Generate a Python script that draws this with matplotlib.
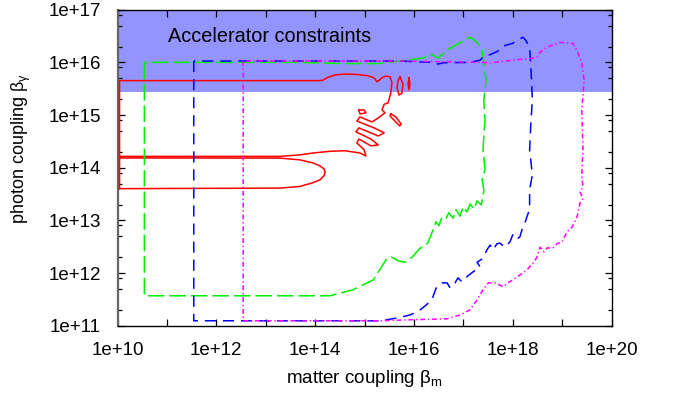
import math
import matplotlib
matplotlib.use("Agg")
import matplotlib.pyplot as plt
from matplotlib.ticker import FixedLocator, FuncFormatter, NullLocator

plt.rcParams['font.family'] = ['Liberation Sans', 'DejaVu Sans']
plt.rcParams['mathtext.fontset'] = 'custom'
plt.rcParams['mathtext.rm'] = 'Liberation Sans'
plt.rcParams['mathtext.it'] = 'Liberation Sans'
plt.rcParams['lines.scale_dashes'] = False

# ---- data (matter coupling, photon coupling) ----
accel_limit = 2.7e15

red_x = [1.1e10, 1.1e10, 1.2e14, 1.45e14, 1.8e14, 2.6e14, 4.0e14, 7.0e14, 1.15e15, 1.56e15,
         1.79e15, 2.0e15, 2.26e15, 2.7e15, 3.3e15, 3.6e15, 3.4e15, 3.0e15, 2.5e15, 2.26e15,
         2.6e15, 1.9e15, 1.42e15, 8.1e14, 7.0e14, 1.56e15, 2.5e15, 1.9e15, 7.7e14, 6.7e14,
         1.35e15, 1.9e15, 1.35e15, 7.7e14, 7.0e14, 9.8e14, 1.07e15, 8.1e14, 4.0e14, 2.0e14,
         9.0e13, 4.9e13, 1.95e13, 1.1e10, 1.1e10, 1.95e13, 4.9e13, 9.1e13, 1.26e14, 1.51e14,
         1.6e14, 1.51e14, 1.26e14, 9.1e13, 4.9e13, 1.95e13, 1.1e10]
red_y = [4.0e13, 4.5e15, 4.5e15, 4.6e15, 5.2e15, 5.8e15, 6.0e15, 5.9e15, 5.6e15, 5.1e15,
         4.3e15, 4.6e15, 5.1e15, 5.5e15, 5.3e15, 4.1e15, 2.6e15, 1.7e15, 1.6e15, 1.25e15,
         1.1e15, 8.8e14, 7.4e14, 9.2e14, 7.7e14, 5.7e14, 4.6e14, 4.0e14, 5.7e14, 4.8e14,
         3.5e14, 2.7e14, 2.6e14, 3.5e14, 2.95e14, 2.2e14, 1.67e14, 1.9e14, 2.1e14, 2.05e14,
         1.9e14, 1.75e14, 1.64e14, 1.64e14, 1.53e14, 1.52e14, 1.41e14, 1.23e14, 1.08e14, 9.5e13,
         8.3e13, 7.0e13, 5.9e13, 5.2e13, 4.4e13, 4.1e13, 4.0e13]

red_loops_x = [[5.2e15, 6.0e15, 5.7e15, 5.0e15, 4.55e15, 4.8e15, 5.2e15],
               [8.0e15, 8.3e15, 8.0e15, 7.6e15, 8.0e15],
               [3.4e15, 4.3e15, 5.5e15, 5.2e15, 4.1e15, 3.3e15, 3.4e15],
               [7.7e14, 9.8e14, 1.07e15, 8.1e14, 7.7e14]]
red_loops_y = [[5.3e15, 3.9e15, 2.6e15, 2.4e15, 3.3e15, 4.6e15, 5.3e15],
               [5.1e15, 3.9e15, 3.0e15, 3.9e15, 5.1e15],
               [1.05e15, 9.2e14, 6.8e14, 6.2e14, 7.7e14, 9.6e14, 1.05e15],
               [1.25e15, 1.25e15, 1.1e15, 1.05e15, 1.25e15]]

green_x = [3.5e10, 3.5e10, 2.0e14, 5.8e14, 1.5e15, 2.85e15, 3.6e15, 4.8e15, 6.6e15, 9.2e15,
           1.3e16, 1.9e16, 2.4e16, 2.8e16, 3.2e16, 3.7e16, 4.5e16, 5.1e16, 6.2e16, 7.1e16,
           8.6e16, 9.9e16, 1.19e17, 1.37e17, 1.65e17, 1.9e17, 2.3e17, 2.5e17,
           2.6e17, 2.4e17, 2.75e17, 2.5e17, 2.75e17, 2.6e17, 2.9e17, 2.6e17, 2.4e17, 2.2e17,
           1.9e17, 1.37e17, 6.8e16, 4.7e16, 3.1e16, 2.4e16, 1.5e16, 2.85e15, 1.9e15, 3.2e14,
           4.9e13, 3.5e10]
green_y = [1.0e16, 3.7e11, 3.7e11, 4.8e11, 7.4e11, 1.9e12, 2.0e12, 1.7e12, 1.6e12, 2.0e12,
           2.9e12, 3.7e12, 6.3e12, 9.4e12, 7.9e12, 1.16e13, 1.1e13, 1.4e13, 1.1e13, 1.6e13,
           1.2e13, 1.8e13, 1.45e13, 2.05e13, 1.65e13, 2.35e13, 1.97e13, 2.8e13,
           3.8e13, 5.9e13, 9.1e13, 2.2e14, 8.1e14, 1.9e15, 4.6e15, 8.9e15, 1.7e16, 1.96e16,
           2.4e16, 3.0e16, 2.1e16, 1.7e16, 1.2e16, 1.4e16, 1.2e16, 1.0e16, 9.5e15, 9.5e15,
           1.0e16, 1.0e16]

blue_x = [3.5e11, 3.5e11, 2.1e15, 3.3e15, 4.8e15, 8.3e15, 1.2e16, 1.8e16, 2.3e16, 2.9e16,
          3.7e16, 4.7e16, 5.4e16, 6.8e16, 7.8e16, 9.4e16, 1.25e17, 1.57e17, 2.2e17, 1.9e17,
          2.5e17, 3.0e17, 3.5e17, 4.0e17, 4.8e17, 5.5e17, 7.0e17, 8.8e17, 1.0e18, 1.2e18,
          1.4e18, 1.6e18, 1.8e18, 2.0e18, 2.2e18, 2.2e18, 2.5e18, 2.2e18, 2.35e18, 2.5e18,
          2.35e18, 2.2e18, 1.8e18, 1.6e18, 1.0e18, 7.0e17, 5.5e17, 3.5e17, 2.5e17, 2.2e17,
          1.37e17, 3.9e16, 3.1e16, 2.4e16, 5.2e15, 3.5e11]
blue_y = [1.06e16, 1.24e11, 1.24e11, 1.33e11, 1.41e11, 1.6e11, 1.84e11, 2.5e11, 3.1e11, 5.5e11,
          6.5e11, 6.5e11, 5.2e11, 6.5e11, 8.1e11, 6.8e11, 8.9e11, 1.05e12, 1.3e12, 1.6e12,
          1.9e12, 2.75e12, 3.4e12, 2.75e12, 3.6e12, 3.7e12, 3.1e12, 3.9e12, 5.3e12, 4.3e12,
          4.9e12, 7.5e12, 9.4e12, 1.27e13, 1.6e13, 3.8e13, 7.3e13, 2.2e14, 8.1e14, 1.9e15,
          7.2e15, 1.96e16, 2.7e16, 3.0e16, 2.3e16, 2.1e16, 1.7e16, 1.4e16, 1.26e16, 1.1e16,
          1.0e16, 9.8e15, 9.3e15, 1.0e16, 1.06e16, 1.06e16]

magenta_x = [3.5e12, 3.5e12, 2.1e15, 9.6e15, 4.7e16, 8.6e16, 1.37e17, 1.9e17, 2.5e17, 3.2e17,
             4.4e17, 6.4e17, 8.0e17, 1.0e18, 1.4e18, 1.95e18, 2.6e18, 3.1e18, 3.6e18, 4.3e18,
             5.0e18, 6.5e18, 7.9e18, 1.0e19, 1.26e19, 1.6e19, 2.0e19, 2.3e19, 2.65e19, 2.3e19,
             2.65e19, 2.5e19, 2.65e19, 2.5e19, 2.8e19, 2.5e19, 2.0e19, 1.66e19, 9.1e18, 5.0e18,
             3.6e18, 3.1e18, 2.6e18, 1.0e18, 3.5e17, 2.5e17, 5.2e15, 3.5e12]
magenta_y = [1.06e16, 1.24e11, 1.24e11, 1.3e11, 1.35e11, 1.6e11, 2.0e11, 3.1e11, 4.8e11, 6.5e11,
             6.5e11, 5.5e11, 6.5e11, 7.4e11, 9.2e11, 1.15e12, 1.56e12, 2.0e12, 3.1e12, 2.5e12,
             3.0e12, 3.0e12, 3.6e12, 3.9e12, 6.1e12, 7.5e12, 1.16e13, 2.15e13, 2.6e13, 3.5e13,
             4.3e13, 7.3e13, 2.2e14, 1.25e15, 4.6e15, 9.8e15, 1.7e16, 2.3e16, 2.4e16, 1.96e16,
             1.57e16, 1.26e16, 1.2e16, 1.1e16, 9.8e15, 1.0e16, 1.06e16, 1.06e16]

x_ticks = [1e10, 1e11, 1e12, 1e13, 1e14, 1e15, 1e16, 1e17, 1e18, 1e19, 1e20]
y_ticks = [1e11, 1e12, 1e13, 1e14, 1e15, 1e16, 1e17]
y_minor = [2, 5, 8]


def exp_label(v, pos, every=1):
    e = round(math.log10(v))
    return "1e+%d" % e if e % every == 0 else ""


# ---- plot ----
fig = plt.figure(figsize=(6.84, 4.03), dpi=100)
ax = fig.add_axes([117.5 / 684, 1 - 325.7 / 403, 494 / 684, 316 / 403])
ax.set_xscale('log')
ax.set_yscale('log')
ax.set_xlim(1e10, 1e20)
ax.set_ylim(1e11, 1e17)

ax.axhspan(accel_limit, 1e17, color='#9494ff', lw=0, zorder=0)
ax.text(0.102, 0.914, "Accelerator constraints", transform=ax.transAxes,
        ha='left', va='center', fontsize=14.3)

ax.plot(red_x, red_y, color='#ff0000', lw=1.1, zorder=3)
for lx, ly in zip(red_loops_x, red_loops_y):
    ax.plot(lx, ly, color='#ff0000', lw=1.1, zorder=3)
ax.plot(green_x, green_y, color='#00f000', lw=1.1, dashes=(12, 3.5), zorder=3)
ax.plot(blue_x, blue_y, color='#0000ff', lw=1.1, dashes=(8, 5), zorder=3)
ax.plot(magenta_x, magenta_y, color='#ff00ff', lw=1.1, dashes=(3.5, 2, 1, 2), zorder=3)

# axes and ticks, gnuplot style
ax.xaxis.set_major_locator(FixedLocator(x_ticks))
ax.xaxis.set_minor_locator(NullLocator())
ax.xaxis.set_major_formatter(FuncFormatter(lambda v, p: exp_label(v, p, every=2)))
ax.yaxis.set_major_locator(FixedLocator(y_ticks))
ax.yaxis.set_minor_locator(FixedLocator([m * t for t in y_ticks[:-1] for m in y_minor]))
ax.yaxis.set_major_formatter(FuncFormatter(exp_label))
ax.yaxis.set_minor_formatter(FuncFormatter(lambda v, p: ""))

ax.tick_params(which='both', direction='in', top=True, right=True, labelsize=13.5, width=0.9)
ax.tick_params(which='major', length=5)
ax.tick_params(which='minor', length=3)
ax.tick_params(axis='x', pad=12)
ax.tick_params(axis='y', pad=12)

for s in ax.spines.values():
    s.set_linewidth(1.0)
ax.spines['left'].set_color('#666666')
ax.spines['left'].set_linewidth(1.6)

ax.set_xlabel(r"matter coupling β$_{\mathrm{m}}$", fontsize=13.5)
ax.set_ylabel(r"photon coupling β$_{\mathrm{\gamma}}$", fontsize=13)
ax.xaxis.set_label_coords(0.5, -0.133)
ax.yaxis.set_label_coords(-0.172, 0.56)

fig.savefig("out.png", dpi=100)
